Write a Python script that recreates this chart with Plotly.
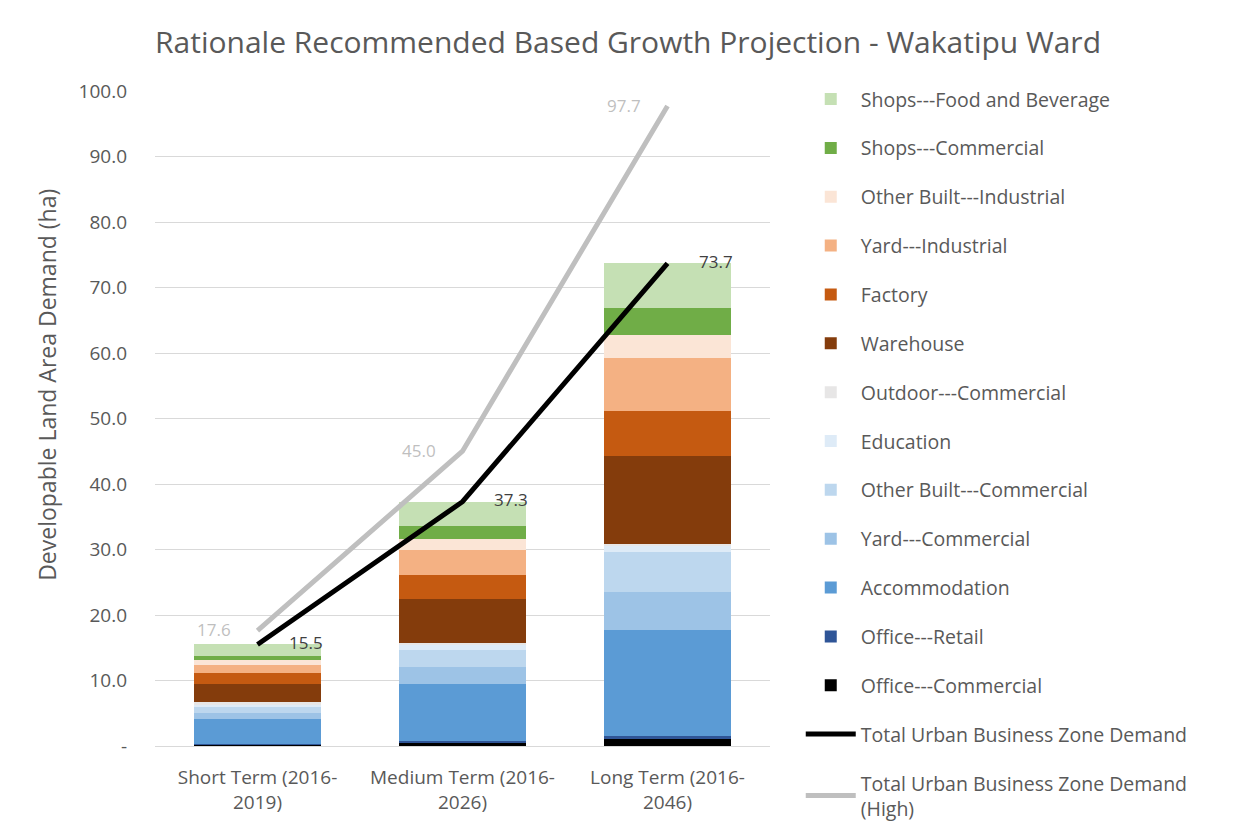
import plotly.graph_objects as go

categories = ["Short Term (2016-<br>2019)", "Medium Term (2016-<br>2026)", "Long Term (2016-<br>2046)"]

office_commercial = [0.25, 0.6, 1.2]
office_retail = [0.05, 0.1, 0.3]
accommodation = [3.8, 8.8, 16.2]
yard_commercial = [1.0, 2.6, 5.8]
other_built_commercial = [0.8, 2.5, 6.1]
education = [0.5, 0.8, 0.9]
outdoor_commercial = [0.3, 0.4, 0.4]
warehouse = [2.7, 6.6, 13.3]
factory = [1.7, 3.7, 6.9]
yard_industrial = [1.3, 3.9, 8.2]
other_built_industrial = [0.7, 1.6, 3.4]
shops_commercial = [0.6, 2.0, 4.2]
shops_food_beverage = [1.8, 3.7, 6.8]

total_demand = [15.5, 37.3, 73.7]
total_demand_high = [17.6, 45.0, 97.7]

y_tick_vals = [0, 10, 20, 30, 40, 50, 60, 70, 80, 90, 100]
y_tick_text = ["-", "10.0", "20.0", "30.0", "40.0", "50.0", "60.0", "70.0", "80.0", "90.0", "100.0"]

bar_series = [
    ("Office---Commercial", office_commercial, "#000000"),
    ("Office---Retail", office_retail, "#2f5597"),
    ("Accommodation", accommodation, "#5b9bd5"),
    ("Yard---Commercial", yard_commercial, "#9dc3e6"),
    ("Other Built---Commercial", other_built_commercial, "#bdd7ee"),
    ("Education", education, "#deebf7"),
    ("Outdoor---Commercial", outdoor_commercial, "#e7e6e6"),
    ("Warehouse", warehouse, "#843c0c"),
    ("Factory", factory, "#c55a11"),
    ("Yard---Industrial", yard_industrial, "#f4b183"),
    ("Other Built---Industrial", other_built_industrial, "#fbe5d6"),
    ("Shops---Commercial", shops_commercial, "#70ad47"),
    ("Shops---Food and Beverage", shops_food_beverage, "#c5e0b4"),
]

FONT = "Open Sans"
TXT = "#595959"

fig = go.Figure()
n = len(bar_series)
for i, (name, vals, color) in enumerate(bar_series):
    fig.add_trace(go.Bar(
        x=categories, y=vals, name=name, marker=dict(color=color, line=dict(width=0)),
        legendgroup=name, legendrank=n - i, width=0.62,
    ))

fig.add_trace(go.Scatter(
    x=categories, y=total_demand, name="Total Urban Business Zone Demand",
    mode="lines", line=dict(color="#000000", width=5),
    legendgroup="total", legendrank=100,
))
fig.add_trace(go.Scatter(
    x=categories, y=total_demand_high, name="Total Urban Business Zone Demand<br>(High)",
    mode="lines", line=dict(color="#bfbfbf", width=5),
    legendgroup="high", legendrank=101,
))

annotations = []
for c, v in zip(categories, total_demand):
    annotations.append(dict(x=c, y=v, text=f"{v:.1f}", showarrow=False, xshift=48, yshift=2,
                            font=dict(size=17, color="#404040", family=FONT)))
for c, v in zip(categories, total_demand_high):
    annotations.append(dict(x=c, y=v, text=f"{v:.1f}", showarrow=False, xshift=-44, yshift=1,
                            font=dict(size=17, color="#bfbfbf", family=FONT)))
annotations.append(dict(text="Developable Land Area Demand (ha)", textangle=-90,
                        xref="paper", yref="paper", x=-0.176, y=0.551,
                        xanchor="center", yanchor="middle", showarrow=False,
                        font=dict(size=23, color=TXT, family=FONT)))

fig.update_layout(
    width=1240, height=831,
    barmode="stack",
    paper_bgcolor="white", plot_bgcolor="white",
    font=dict(family=FONT, color=TXT, size=17),
    title=dict(text="Rationale Recommended Based Growth Projection - Wakatipu Ward",
               x=0.5, xanchor="center", y=0.958, yanchor="middle",
               font=dict(size=30, color=TXT, family=FONT)),
    margin=dict(l=147, r=478, t=83, b=93, autoexpand=False),
    annotations=annotations,
    legend=dict(x=1.05, xanchor="left", y=1.017, yanchor="top",
                traceorder="grouped", tracegroupgap=20.5, maxheight=900,
                font=dict(size=19.5, color=TXT, family=FONT),
                itemwidth=50),
    yaxis=dict(range=[0, 100], tickvals=y_tick_vals, ticktext=y_tick_text,
               showgrid=True, gridcolor="#d9d9d9", gridwidth=1, zeroline=False,
               showline=False, ticks="", ticklabelstandoff=27,
               tickfont=dict(size=19, color=TXT)),
    xaxis=dict(showline=True, linecolor="#d9d9d9", linewidth=1, ticks="",
               ticklabelstandoff=14,
               tickfont=dict(size=19, color=TXT)),
)

fig.write_html("out.html")
